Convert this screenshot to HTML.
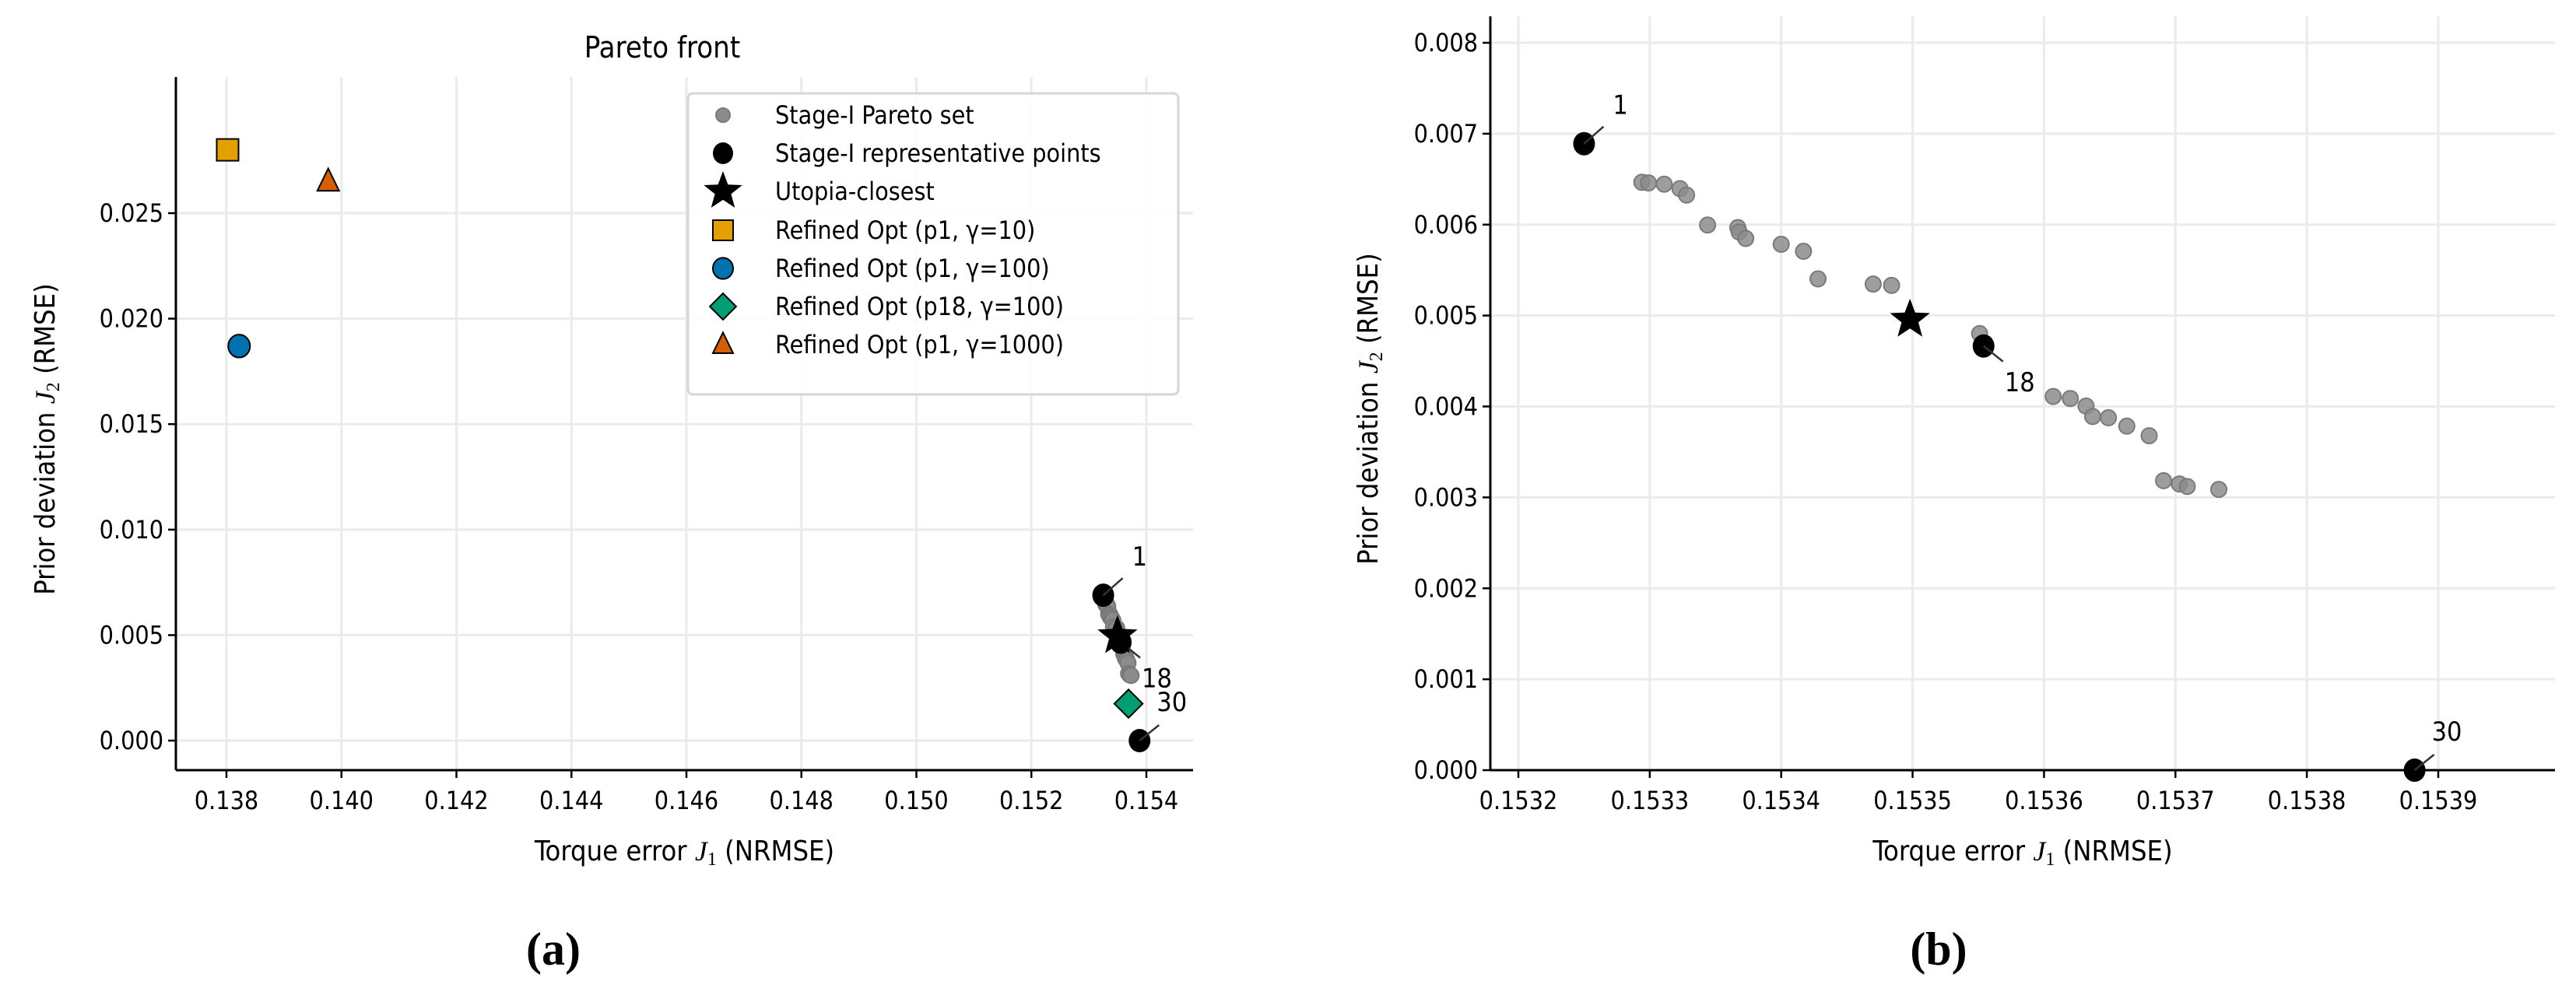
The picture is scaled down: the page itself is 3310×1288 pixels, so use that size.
<!DOCTYPE html>
<html><head><meta charset="utf-8"><style>
html,body{margin:0;padding:0;background:#fff;}
svg{display:block;}
text{font-family:"DejaVu Sans Condensed","DejaVu Sans","Liberation Sans",sans-serif;}
</style></head><body>
<svg id="fig" width="3310" height="1288" viewBox="0 0 3310 1288" xmlns="http://www.w3.org/2000/svg">
<g id="pa"></g>
<g id="pb"></g>
</svg>
<script>
// ---- data ----
const paretoJ1 = [0.153294,0.153299,0.153311,0.153323,0.153328,0.153344,0.153367,0.153368,0.153373,0.153400,0.153417,0.153428,0.153470,0.153484,0.153551,0.153607,0.153620,0.153632,0.153637,0.153649,0.153663,0.153680,0.153691,0.153703,0.153709,0.153733];
const paretoJ2 = [0.006466,0.006459,0.006445,0.006396,0.006325,0.005996,0.005968,0.005919,0.005848,0.005784,0.005707,0.005403,0.005346,0.005332,0.004802,0.004110,0.004088,0.004004,0.003890,0.003876,0.003784,0.003678,0.003184,0.003148,0.003120,0.003088];
const repJ1 = [0.153250,0.153554,0.153882];
const repJ2 = [0.006890,0.004665,0.000000];
const repLabels = ["1","18","30"];
const utopiaJ1 = [0.153498];
const utopiaJ2 = [0.004955];
const refinedNames = ["Refined Opt (p1, γ=10)","Refined Opt (p1, γ=100)","Refined Opt (p18, γ=100)","Refined Opt (p1, γ=1000)"];
const refinedJ1 = [0.13802,0.13822,0.15369,0.13977];
const refinedJ2 = [0.02800,0.01870,0.00175,0.02650];
const refinedColors = ["#e69f00","#0072b2","#009e73","#d55e00"];
const refinedShapes = ["square","circle","diamond","triangle"];
const aXTicks = [0.138,0.140,0.142,0.144,0.146,0.148,0.150,0.152,0.154];
const aYTicks = [0.000,0.005,0.010,0.015,0.020,0.025];
const bXTicks = [0.1532,0.1533,0.1534,0.1535,0.1536,0.1537,0.1538,0.1539];
const bYTicks = [0.000,0.001,0.002,0.003,0.004,0.005,0.006,0.007,0.008];

const NS="http://www.w3.org/2000/svg";
function mk(parent,tag,attrs,txt){const e=document.createElementNS(NS,tag);for(const k in attrs)e.setAttribute(k,attrs[k]);if(txt!==undefined)e.textContent=txt;parent.appendChild(e);return e;}
function lin(d0,d1,r0,r1){return v=>r0+(v-d0)/(d1-d0)*(r1-r0);}
function starPts(cx,cy,R){const r=R*0.42;let p=[];for(let i=0;i<10;i++){const a=-Math.PI/2+i*Math.PI/5;const rr=i%2?r:R;p.push((cx+rr*Math.cos(a)).toFixed(1)+","+(cy+rr*Math.sin(a)).toFixed(1));}return p.join(" ");}
function shape(g,kind,cx,cy,s,fill){
  let e;
  if(kind==="square") e=mk(g,"rect",{x:cx-s,y:cy-s,width:2*s,height:2*s,fill:fill,stroke:"#000","stroke-width":2});
  else if(kind==="circle") e=mk(g,"ellipse",{cx:cx,cy:cy,rx:s,ry:s*1.05,fill:fill,stroke:"#000","stroke-width":2});
  else if(kind==="diamond") e=mk(g,"polygon",{points:`${cx},${cy-s*1.3} ${cx+s*1.3},${cy} ${cx},${cy+s*1.3} ${cx-s*1.3},${cy}`,fill:fill,stroke:"#000","stroke-width":2});
  else e=mk(g,"polygon",{points:`${cx},${cy-s*1.2} ${cx+s},${cy+s*0.85} ${cx-s},${cy+s*0.85}`,fill:fill,stroke:"#000","stroke-width":2});
  return e;
}
function axes(g,box,X,Y,xt,yt,xfmt,yfmt){
  const grid=mk(g,"g",{});
  
  
  xt.forEach(t=>{mk(grid,"line",{x1:X(t),x2:X(t),y1:box.t,y2:box.b,stroke:"#ebebeb","stroke-width":3});});
  yt.forEach(t=>{mk(grid,"line",{x1:box.l,x2:box.r,y1:Y(t),y2:Y(t),stroke:"#ebebeb","stroke-width":3});});
  const ax=mk(g,"g",{});
  
  
  mk(ax,"line",{x1:box.l,x2:box.l,y1:box.t,y2:box.b,stroke:"#000","stroke-width":3});
  mk(ax,"line",{x1:box.l,x2:box.r,y1:box.b,y2:box.b,stroke:"#000","stroke-width":3});
  xt.forEach(t=>{mk(ax,"line",{x1:X(t),x2:X(t),y1:box.b,y2:box.b+10,stroke:"#000","stroke-width":2.5});
    const tx=mk(ax,"text",{x:X(t),y:box.b+50,"font-size":32,"text-anchor":"middle"},xfmt(t));
    
    });
  yt.forEach(t=>{mk(ax,"line",{x1:box.l-10,x2:box.l,y1:Y(t),y2:Y(t),stroke:"#000","stroke-width":2.5});
    const ty=mk(ax,"text",{x:box.l-16,y:Y(t)+11,"font-size":32,"text-anchor":"end"},yfmt(t));
    
    });
}
function labels(g,box,ylx,title){
  const xl=mk(g,"text",{x:(box.l+box.r)/2,y:1106,"font-size":36,"text-anchor":"middle"});
  
  
  xl.innerHTML='Torque error <tspan font-family="Liberation Serif,serif" font-style="italic">J</tspan><tspan font-family="Liberation Serif,serif" font-size="24" dy="6">1</tspan><tspan dy="-6"> (NRMSE)</tspan>';
  const yl=mk(g,"text",{x:0,y:0,"font-size":36,"text-anchor":"middle",transform:`translate(${ylx},${(box.t+box.b)/2+20}) rotate(-90)`});
  
  
  yl.innerHTML='Prior deviation <tspan font-family="Liberation Serif,serif" font-style="italic">J</tspan><tspan font-family="Liberation Serif,serif" font-size="24" dy="6">2</tspan><tspan dy="-6"> (RMSE)</tspan>';
}
function stage(g,X,Y,ann){
  paretoJ1.forEach((v,i)=>{const c=mk(g,"circle",{cx:X(v),cy:Y(paretoJ2[i]),r:10,fill:"#8c8c8c","fill-opacity":0.85,stroke:"#7a7a7a","stroke-width":2});
    
    });
  const offs=[[25,-22,45,-38],[25,20,35,58],[25,-20,30,-38]];
  repJ1.forEach((v,i)=>{const cx=X(v),cy=Y(repJ2[i]);
    const c=mk(g,"ellipse",{cx:cx,cy:cy,rx:14,ry:15,fill:"#000"});
    
    
    const o=offs[i];
    mk(g,"line",{x1:cx,y1:cy,x2:cx+o[0],y2:cy+o[1],stroke:"#333","stroke-width":2.5});
    const t=mk(g,"text",{x:cx+o[2]-8,y:cy+o[3],"font-size":ann},repLabels[i]);
    
    });
  utopiaJ1.forEach((v,i)=>{const s=mk(g,"polygon",{points:starPts(X(v),Y(utopiaJ2[i]),27),fill:"#000"});
    
    });
}
// ---- Panel A ----
(function(){
  const g=document.getElementById("pa");
  const box={l:226,r:1533,t:99,b:990};
  const X=lin(0.138,0.154,291,1473), Y=lin(0,0.025,952,274);
  axes(g,box,X,Y,aXTicks,aYTicks,t=>t.toFixed(3),t=>t.toFixed(3));
  labels(g,box,70);
  const tt=mk(g,"text",{x:851,y:74,"font-size":38,"text-anchor":"middle"},"Pareto front");
  
  
  stage(g,X,Y,34);
  refinedJ1.forEach((v,i)=>{const e=shape(g,refinedShapes[i],X(v),Y(refinedJ2[i]),14,refinedColors[i]);
    
    });
  // legend
  const lg=mk(g,"g",{});
  
  
  mk(lg,"rect",{x:884,y:120,width:630,height:387,rx:6,fill:"#fff","fill-opacity":0.9,stroke:"#d6d6d6","stroke-width":3});
  const names=["Stage-I Pareto set","Stage-I representative points","Utopia-closest"].concat(refinedNames);
  const ys=[148,197,246,296,345,394,443];
  names.forEach((n,i)=>{
    const y=ys[i], mx=929;
    const eg=mk(lg,"g",{});
    
    
    if(i===0) mk(eg,"circle",{cx:mx,cy:y,r:9,fill:"#8c8c8c",stroke:"#7a7a7a","stroke-width":2});
    else if(i===1) mk(eg,"ellipse",{cx:mx,cy:y,rx:13,ry:14,fill:"#000"});
    else if(i===2) mk(eg,"polygon",{points:starPts(mx,y,26),fill:"#000"});
    else shape(eg,refinedShapes[i-3],mx,y,13,refinedColors[i-3]);
    mk(eg,"text",{x:996,y:y+11,"font-size":32},n);
  });
})();
// ---- Panel B ----
(function(){
  const g=document.getElementById("pb");
  const box={l:1915,r:3283,t:21,b:990};
  const X=lin(0.1532,0.1539,1951,3133), Y=lin(0,0.008,990,55);
  axes(g,box,X,Y,bXTicks,bYTicks,t=>t.toFixed(4),t=>t.toFixed(3));
  labels(g,box,1770);
  stage(g,X,Y,34);
})();
// panel captions
const ca=mk(document.getElementById("fig"),"text",{x:711,y:1240,"font-size":60,"text-anchor":"middle","font-weight":"bold",style:"font-family:'Liberation Serif',serif"},"(a)");


const cb=mk(document.getElementById("fig"),"text",{x:2491,y:1240,"font-size":60,"text-anchor":"middle","font-weight":"bold",style:"font-family:'Liberation Serif',serif"},"(b)");


</script>
</body></html>
